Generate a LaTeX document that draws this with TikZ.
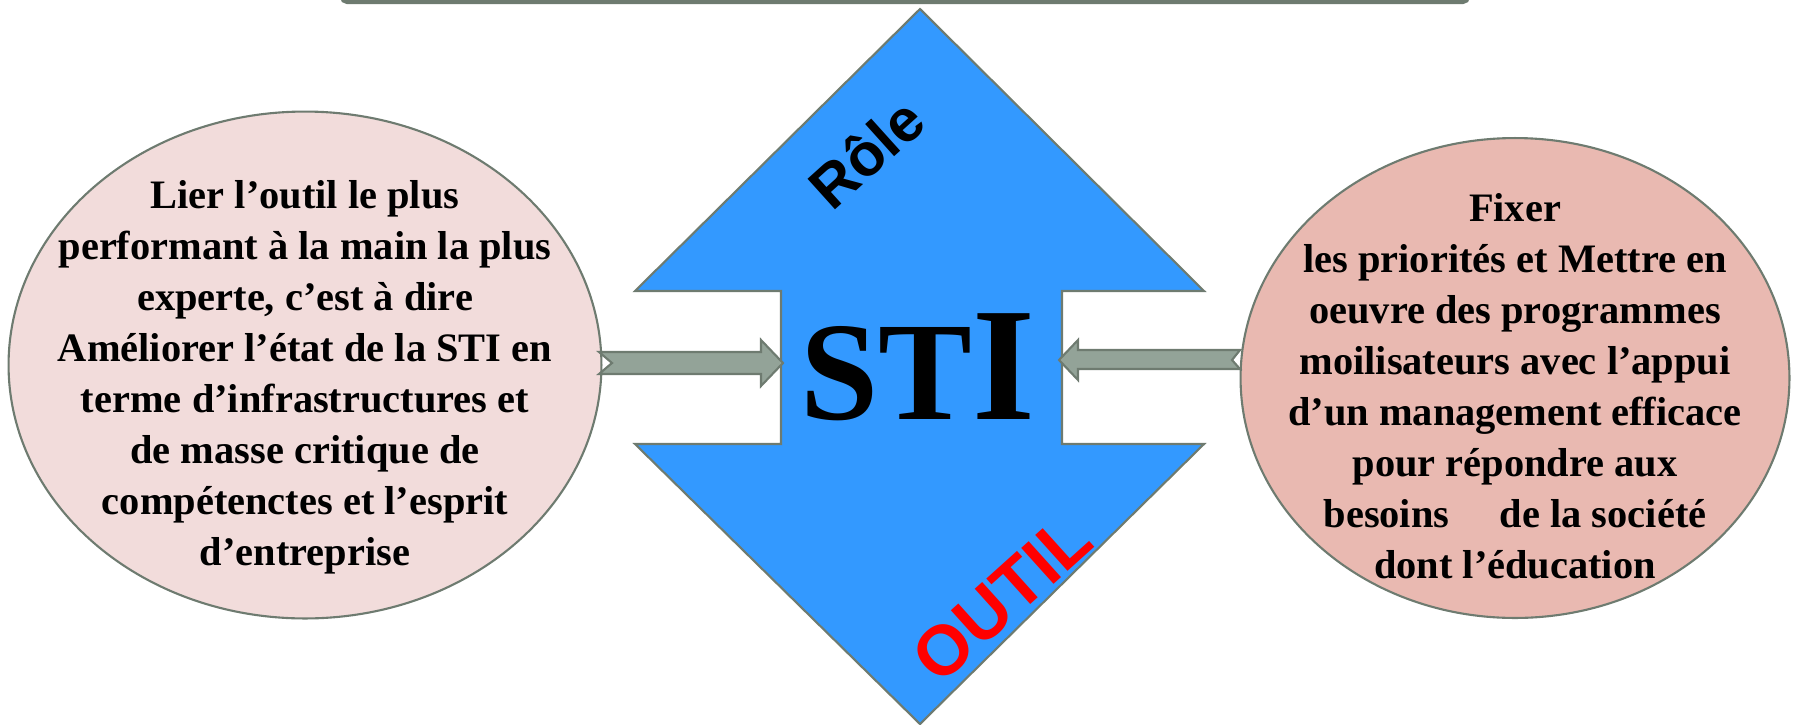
\documentclass[tikz,border=0pt]{standalone}
\usepackage{fontspec}
\setmainfont{Liberation Serif}
\newfontfamily\arialfont{Liberation Sans}
\usetikzlibrary{shapes.geometric}

\definecolor{stiblue}{HTML}{3399FF}
\definecolor{edgegray}{HTML}{6E7B70}
\definecolor{arrowgray}{HTML}{93A398}
\definecolor{leftpink}{HTML}{F2DCDB}
\definecolor{rightpink}{HTML}{E9B9B1}

\tikzset{
	bubble/.style={shape=ellipse, draw=edgegray, line width=1.2pt, inner sep=0pt},
	bubbletext/.style={align=center, inner sep=0pt, font=\bfseries\fontsize{23}{29}\selectfont},
	blockarrow/.style={draw=edgegray, fill=arrowgray, line width=1.2pt, line join=miter},
	tilted/.style={rotate=42, inner sep=0pt},
}

\begin{document}
\begin{tikzpicture}[x=0.02cm, y=-0.02cm]
	\useasboundingbox (0,0) rectangle (1802,724);

	% box above, cut by the page
	\draw[edgegray, line width=2.4pt, rounded corners=3pt] (342,-40) rectangle (1468,2);

	% notched diamond
	\draw[fill=stiblue, draw=edgegray, line width=1.2pt, line join=miter]
		(920,9) -- (1204,291) -- (1062,291) -- (1062,444) -- (1204,444) -- (920,724)
		-- (635,444) -- (781,444) -- (781,291) -- (635,291) -- cycle;

	\node[anchor=base]                                        (sti)   at (918,419) {\bfseries\fontsize{80}{80}\selectfont ST\fontsize{92}{92}\selectfont I};
	\node[tilted, font=\arialfont\bfseries\fontsize{34}{34}\selectfont]            (role)  at (866,153) {Rôle};
	\node[tilted, font=\arialfont\bfseries\fontsize{40}{40}\selectfont, text=red] (outil) at (1002,598) {OUTIL};

	\node[bubble, fill=leftpink,  minimum width=11.86cm, minimum height=10.14cm] (lbox) at (305,365)  {};
	\node[bubble, fill=rightpink, minimum width=10.98cm, minimum height=9.6cm]   (rbox) at (1515,378) {};

	\node[bubbletext] (ltext) at (305,377) {Lier l’outil le plus\\performant à la main la plus\\experte, c’est à dire\\Améliorer l’état de la STI en\\terme d’infrastructures et\\de masse critique de\\compétenctes et l’esprit\\d’entreprise};
	\node[bubbletext] (rtext) at (1515,386) {Fixer\\les priorités et Mettre en\\oeuvre des programmes\\moilisateurs avec l’appui\\d’un management efficace\\pour répondre aux\\besoins\hspace{1em} de la société\\dont l’éducation};

	% block arrows into the notches
	\coordinate (ltail) at (612,363);
	\coordinate (ltip)  at (783,363);
	\coordinate (rtail) at (1232,360);
	\coordinate (rtip)  at (1059,360);

	\draw[blockarrow] (ltail) -- ++(-13,-11) -- ++(162,0) -- ++(0,-12) -- (ltip) -- ++(-22,23) -- ++(0,-12) -- ++(-162,0) -- cycle;
	\draw[blockarrow] (rtail) -- ++(8,-10) -- ++(-162,0) -- ++(0,-10) -- (rtip) -- ++(19,20) -- ++(0,-11) -- ++(162,0) -- cycle;
\end{tikzpicture}
\end{document}
